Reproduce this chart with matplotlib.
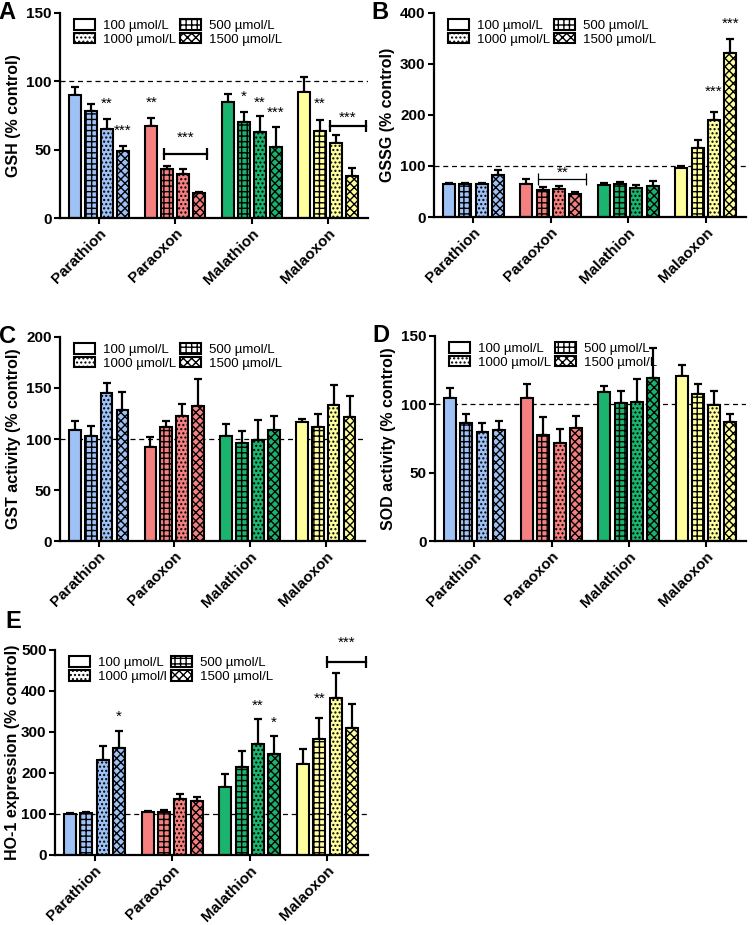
import numpy as np
import matplotlib
matplotlib.use("Agg")
import matplotlib.pyplot as plt
from matplotlib.patches import Patch

plt.rcParams['font.family'] = ['Liberation Sans', 'DejaVu Sans']
plt.rcParams['hatch.linewidth'] = 1.0

compounds = ['Parathion', 'Paraoxon', 'Malathion', 'Malaoxon']
doses = ['100 µmol/L', '500 µmol/L', '1000 µmol/L', '1500 µmol/L']
colors = ['#9ec2f5', '#f58080', '#1bb46e', '#ffff9e']
hatches = ['', '+++', '....', 'xxxx']

# mean values, rows = compound, cols = dose (100, 500, 1000, 1500)
gsh_mean = [[90, 78.5, 65, 49.3], [67.6, 35.6, 32.4, 18.3],
            [84.9, 70, 63.2, 51.7], [92.2, 63.9, 54.9, 31]]
gsh_err = [[5.6, 4.9, 7.7, 3.7], [5.4, 2.2, 3.4, 0.7],
           [5.8, 7.8, 11.4, 15.1], [10.8, 8.1, 6.1, 5.6]]

gssg_mean = [[64, 64.5, 64, 81.7], [64.7, 53.6, 55.5, 45.8],
             [62.7, 64, 57, 61.4], [96, 135, 189.5, 321.6]]
gssg_err = [[3, 3, 3, 9.8], [10.3, 5.2, 4.5, 2.6],
            [3.3, 5, 5.7, 9.2], [4.6, 15, 15.5, 27.4]]

gst_mean = [[108.5, 103, 145, 128], [92, 111.8, 123, 132],
            [102.6, 96, 98.7, 108.5], [116.7, 111.8, 133, 121.6]]
gst_err = [[9.1, 9.7, 10, 17.8], [10, 5.8, 11.3, 26.5],
           [12.4, 12, 20.3, 14], [3.3, 13, 20, 20.4]]

sod_mean = [[104.8, 86.5, 79.9, 81.1], [104.3, 77.4, 71.8, 82.8],
            [109, 100.7, 101.4, 119.2], [120.7, 107.5, 99.4, 87.2]]
sod_err = [[6.8, 6.3, 6.1, 6.6], [10.3, 13, 10.5, 8.6],
           [4.4, 8.8, 17.1, 22.3], [8.1, 7.1, 10.3, 5.4]]

ho1_mean = [[99, 101.6, 231.7, 261.8], [104, 104, 135.8, 131.7],
            [166.7, 213.8, 270.7, 246.3], [221, 283, 382, 310.6]]
ho1_err = [[4, 4, 34, 40.6], [4, 6, 14, 10],
           [31, 40, 61, 44.7], [38.3, 50, 62.7, 58.4]]

# significance marks: (compound index, dose index, y, text)
gsh_stars = [(0, 2, 83.6, '**'), (0, 3, 64, '***'), (1, 0, 84, '**'),
             (2, 1, 88.5, '*'), (2, 2, 84.6, '**'), (2, 3, 77, '***'),
             (3, 1, 83.6, '**')]
gssg_stars = [(3, 2, 246, '***'), (3, 3, 379, '***')]
ho1_stars = [(0, 3, 337, '*'), (2, 2, 363, '**'), (2, 3, 323, '*'),
             (3, 1, 380, '**')]
# brackets: (x start, x end, y, text, text y, line width)
gsh_brackets = [(0.85, 1.42, 47, '***', 58.5, 1.6), (3.02, 3.5, 67, '***', 73, 1.6)]
gssg_brackets = [(0.84, 1.46, 74.5, '**', 86, 0.9)]
ho1_brackets = [(3.0, 3.5, 470, '***', 518, 1.6)]

spacing = 0.21
width = 0.155
offsets = (np.arange(4) - 1.5) * spacing


def draw_panel(ax, mean, err, ymax, ystep, ylabel, letter, legend_labels,
               stars=(), brackets=(), labelpad=4):
    mean = np.array(mean)
    err = np.array(err)
    x = np.arange(len(compounds))
    for i in range(len(compounds)):
        for j in range(4):
            xp = x[i] + offsets[j]
            ax.errorbar(xp, mean[i, j], yerr=[[0], [err[i, j]]], fmt='none',
                        ecolor='black', elinewidth=1.6, capsize=3, capthick=1.6,
                        zorder=1)
            ax.bar(xp, mean[i, j], width=width, color=colors[i],
                   edgecolor='black', linewidth=1.5, hatch=hatches[j], zorder=2)
    ax.axhline(100, color='black', linestyle=(0, (4, 3)), linewidth=0.9, zorder=0)

    for ci, dj, y, txt in stars:
        ax.text(x[ci] + offsets[dj], y, txt, ha='center', va='center',
                fontsize=11, clip_on=False)
    for x0, x1, y, txt, ty, lw in brackets:
        ax.plot([x0, x1], [y, y], color='black', linewidth=lw, clip_on=False)
        ax.plot([x0, x1], [y, y], linestyle='none', marker='|', markersize=8,
                markeredgewidth=lw, color='black', clip_on=False)
        ax.text((x0 + x1) / 2, ty, txt, ha='center', va='center', fontsize=11,
                clip_on=False)

    ax.set_xlim(-0.51, 3.52)
    ax.set_ylim(0, ymax)
    ax.set_yticks(np.arange(0, ymax + 1, ystep))
    ax.set_xticks(x)
    ax.set_xticklabels(compounds, rotation=45, ha='right', rotation_mode='anchor',
                       fontsize=11, fontweight='bold')
    for lab in ax.get_yticklabels():
        lab.set_fontweight('bold')
        lab.set_fontsize(11)
    ax.set_ylabel(ylabel, fontsize=11.5, fontweight='bold', labelpad=labelpad)
    ax.spines['top'].set_visible(False)
    ax.spines['right'].set_visible(False)
    ax.spines['left'].set_linewidth(1.6)
    ax.spines['bottom'].set_linewidth(1.6)
    ax.tick_params(axis='both', width=1.5, length=4, pad=2)

    order = [0, 2, 1, 3]
    handles = [Patch(facecolor='white', edgecolor='black', linewidth=1.5,
                     hatch=hatches[k]) for k in order]
    ax.legend(handles, [legend_labels[k] for k in order], ncol=2, loc='upper left',
              bbox_to_anchor=(0.02, 1.01), frameon=False, fontsize=9.5,
              handlelength=1.6, handleheight=0.9, handletextpad=0.6,
              columnspacing=0.3, labelspacing=0.05, borderaxespad=0.2)
    ax.text(-0.2, 1.0, letter, transform=ax.transAxes, fontsize=17,
            fontweight='bold', ha='left', va='center')


fig = plt.figure(figsize=(7.52, 9.25), dpi=100)
axA = fig.add_axes([0.0798, 0.7643, 0.4092, 0.2217])
axB = fig.add_axes([0.577, 0.7654, 0.415, 0.2206])
axC = fig.add_axes([0.0798, 0.4151, 0.4056, 0.2206])
axD = fig.add_axes([0.5785, 0.4151, 0.4135, 0.2217])
axE = fig.add_axes([0.0731, 0.0757, 0.4159, 0.2216])

draw_panel(axA, gsh_mean, gsh_err, 150, 50, 'GSH (% control)', 'A', doses,
           gsh_stars, gsh_brackets)
draw_panel(axB, gssg_mean, gssg_err, 400, 100, 'GSSG (% control)', 'B', doses,
           gssg_stars, gssg_brackets)
draw_panel(axC, gst_mean, gst_err, 200, 50, 'GST activity (% control)', 'C', doses)
draw_panel(axD, sod_mean, sod_err, 150, 50, 'SOD activity (% control)', 'D', doses)
e_labels = ['100 µmol/L', '500 µmol/L', '1000 µmol/l', '1500 µmol/L']
draw_panel(axE, ho1_mean, ho1_err, 500, 100, 'HO-1 expression (% control)', 'E',
           e_labels, ho1_stars, ho1_brackets, labelpad=1)
axE.texts[-1].set_position((-0.16, 1.14))

fig.savefig('out.png', dpi=100)
